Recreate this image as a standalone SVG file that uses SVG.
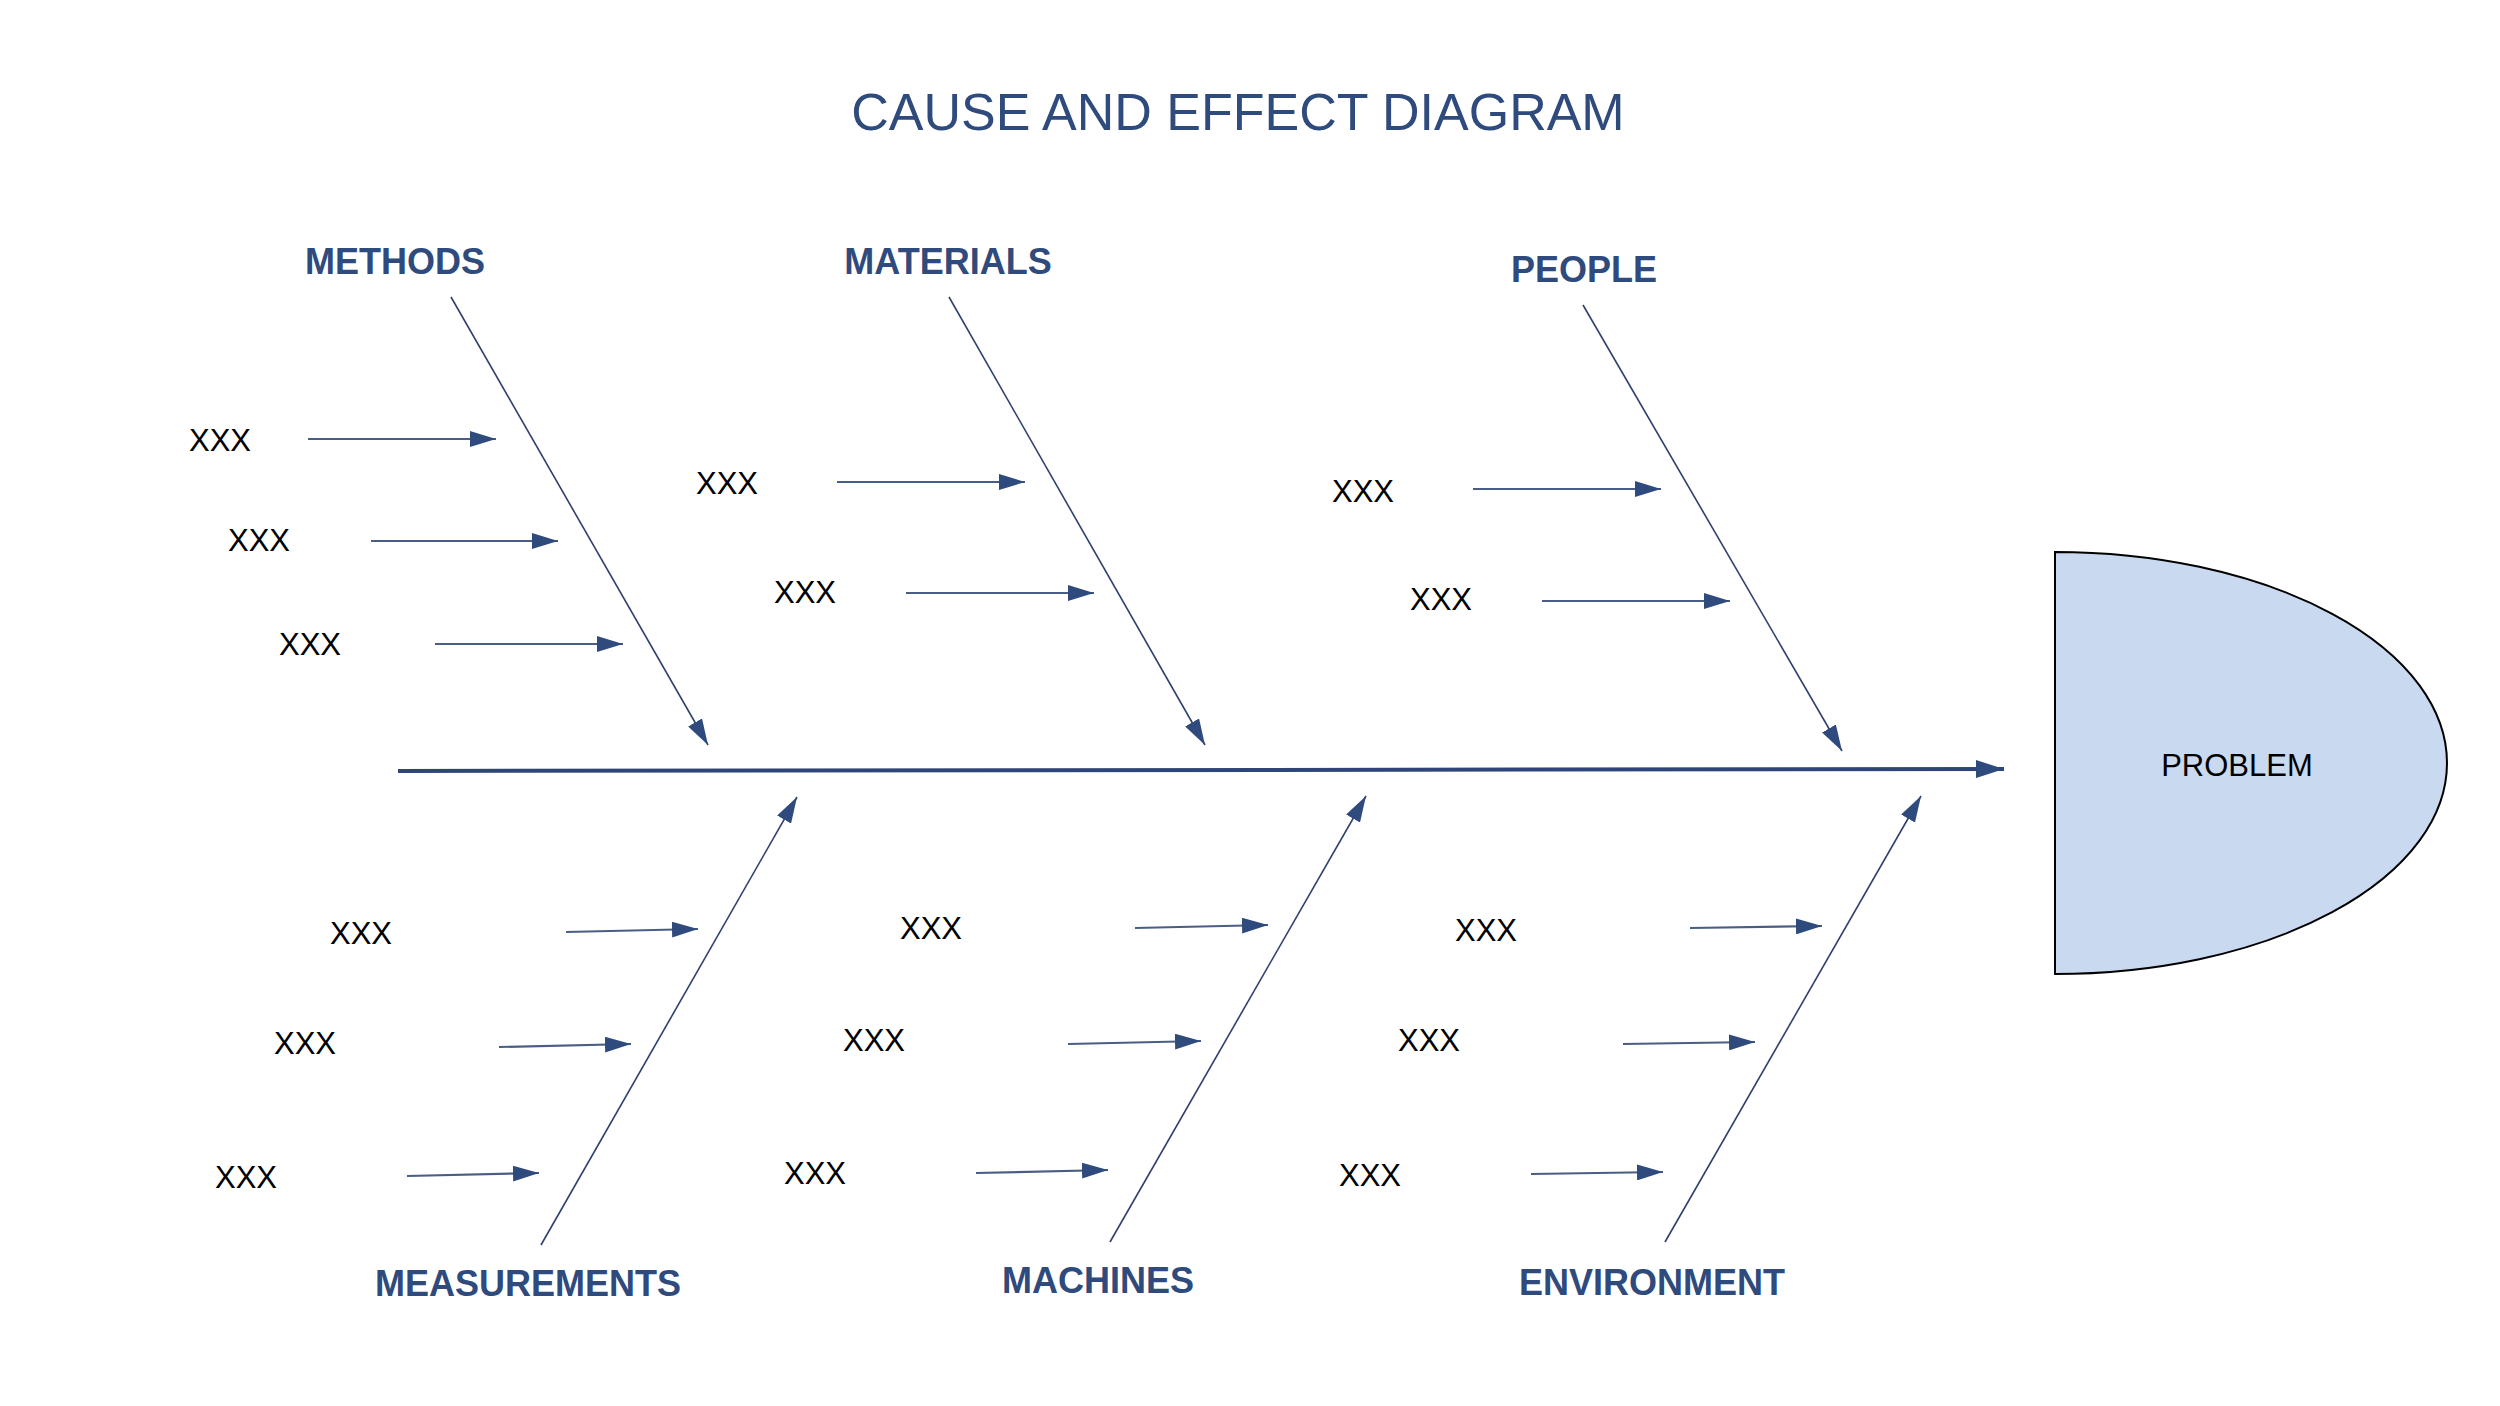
<svg xmlns="http://www.w3.org/2000/svg" width="2500" height="1406" viewBox="0 0 2500 1406">
<style>
.title{font-family:"Liberation Sans",Arial,sans-serif;font-size:52px;fill:#2f4a7c;text-anchor:middle}
.cat{font-family:"Liberation Sans",Arial,sans-serif;font-size:36px;font-weight:bold;fill:#2f4a7c;text-anchor:middle}
.x{font-family:"Liberation Sans",Arial,sans-serif;font-size:31px;fill:#000;text-anchor:middle}
.pt{font-family:"Liberation Sans",Arial,sans-serif;font-size:31px;fill:#000;text-anchor:middle}
.spine{stroke:#2f4478;stroke-width:4;fill:none}
.bone{stroke:#2f4070;stroke-width:1.6;fill:none}
.sub{stroke:#4a5d85;stroke-width:2.2;fill:none}
</style>
<defs>
<marker id="ah" viewBox="0 0 26 16" refX="26" refY="8" markerWidth="26" markerHeight="16" markerUnits="userSpaceOnUse" orient="auto">
<path d="M0,0 L26,8 L0,16 Z" fill="#2f4a7c"/>
</marker>
<marker id="ahs" viewBox="0 0 28 18" refX="28" refY="9" markerWidth="28" markerHeight="18" markerUnits="userSpaceOnUse" orient="auto">
<path d="M0,0 L28,9 L0,18 Z" fill="#2f4a7c"/>
</marker>
</defs>
<rect width="2500" height="1406" fill="#fff"/>
<text class="title" x="1238" y="130">CAUSE AND EFFECT DIAGRAM</text>

<g id="problem">
<path d="M2055,552 A392,211 0 0 1 2055,974 Z" fill="#c9d9ef" stroke="#000" stroke-width="2"/>
<text class="pt" x="2237" y="776">PROBLEM</text>
</g>

<g id="methods"><text class="cat" x="395" y="274">METHODS</text></g>
<g id="materials"><text class="cat" x="948" y="274">MATERIALS</text></g>
<g id="people"><text class="cat" x="1584" y="282">PEOPLE</text></g>
<g id="measurements"><text class="cat" x="528" y="1296">MEASUREMENTS</text></g>
<g id="machines"><text class="cat" x="1098" y="1293">MACHINES</text></g>
<g id="environment"><text class="cat" x="1652" y="1295">ENVIRONMENT</text></g>

<g id="causes">
<text class="x" x="220" y="451">XXX</text>
<text class="x" x="259" y="551">XXX</text>
<text class="x" x="310" y="655">XXX</text>
<text class="x" x="727" y="494">XXX</text>
<text class="x" x="805" y="603">XXX</text>
<text class="x" x="1363" y="502">XXX</text>
<text class="x" x="1441" y="610">XXX</text>
<text class="x" x="361" y="944">XXX</text>
<text class="x" x="305" y="1054">XXX</text>
<text class="x" x="246" y="1188">XXX</text>
<text class="x" x="931" y="939">XXX</text>
<text class="x" x="874" y="1051">XXX</text>
<text class="x" x="815" y="1184">XXX</text>
<text class="x" x="1486" y="941">XXX</text>
<text class="x" x="1429" y="1051">XXX</text>
<text class="x" x="1370" y="1186">XXX</text>
</g>

<g id="connectors">
<line class="spine" x1="398" y1="771" x2="2004" y2="769" marker-end="url(#ahs)"/>
<line class="bone" x1="451" y1="297" x2="708" y2="745" marker-end="url(#ah)"/>
<line class="bone" x1="949" y1="297" x2="1205" y2="745" marker-end="url(#ah)"/>
<line class="bone" x1="1583" y1="305" x2="1842" y2="751" marker-end="url(#ah)"/>
<line class="bone" x1="541" y1="1245" x2="797" y2="797" marker-end="url(#ah)"/>
<line class="bone" x1="1110" y1="1242" x2="1366" y2="796" marker-end="url(#ah)"/>
<line class="bone" x1="1665" y1="1242" x2="1921" y2="796" marker-end="url(#ah)"/>

<line class="sub" x1="308" y1="439" x2="496" y2="439" marker-end="url(#ah)"/>
<line class="sub" x1="371" y1="541" x2="558" y2="541" marker-end="url(#ah)"/>
<line class="sub" x1="435" y1="644" x2="623" y2="644" marker-end="url(#ah)"/>
<line class="sub" x1="837" y1="482" x2="1025" y2="482" marker-end="url(#ah)"/>
<line class="sub" x1="906" y1="593" x2="1094" y2="593" marker-end="url(#ah)"/>
<line class="sub" x1="1473" y1="489" x2="1661" y2="489" marker-end="url(#ah)"/>
<line class="sub" x1="1542" y1="601" x2="1730" y2="601" marker-end="url(#ah)"/>

<line class="sub" x1="566" y1="932" x2="698" y2="929" marker-end="url(#ah)"/>
<line class="sub" x1="499" y1="1047" x2="631" y2="1044" marker-end="url(#ah)"/>
<line class="sub" x1="407" y1="1176" x2="539" y2="1173" marker-end="url(#ah)"/>
<line class="sub" x1="1135" y1="928" x2="1268" y2="925" marker-end="url(#ah)"/>
<line class="sub" x1="1068" y1="1044" x2="1201" y2="1041" marker-end="url(#ah)"/>
<line class="sub" x1="976" y1="1173" x2="1108" y2="1170" marker-end="url(#ah)"/>
<line class="sub" x1="1690" y1="928" x2="1822" y2="926" marker-end="url(#ah)"/>
<line class="sub" x1="1623" y1="1044" x2="1755" y2="1042" marker-end="url(#ah)"/>
<line class="sub" x1="1531" y1="1174" x2="1663" y2="1172" marker-end="url(#ah)"/>
</g>
</svg>
